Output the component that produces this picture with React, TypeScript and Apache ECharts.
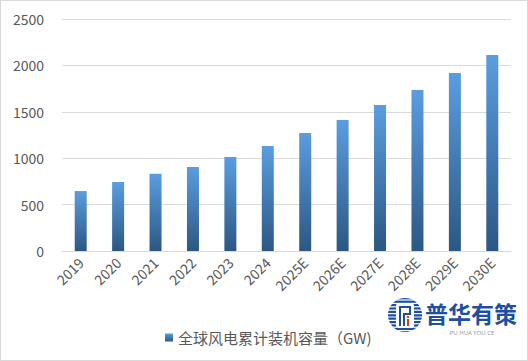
import React, { useEffect, useRef } from "react";
import * as echarts from "echarts";

const categories = ["2019", "2020", "2021", "2022", "2023", "2024", "2025E", "2026E", "2027E", "2028E", "2029E", "2030E"];
const capacity = [646, 743, 833, 905, 1013, 1131, 1272, 1412, 1573, 1735, 1918, 2112];
const seriesName = "全球风电累计装机容量（GW)";

function logoGraphics() {
  const cx = 404;
  const cy = 314;
  const r = 17;
  const els: any[] = [];
  els.push({ type: "circle", shape: { cx, cy, r }, style: { fill: "#1f4f9f" } });
  for (let y = cy - r + 2; y < cy + r; y += 3.4) {
    const dy = y - cy;
    const half = Math.sqrt(Math.max(0, r * r - dy * dy));
    els.push({ type: "line", shape: { x1: cx - half - 1, y1: y, x2: cx + half + 1, y2: y }, style: { stroke: "#ffffff", lineWidth: 1.2 } });
  }
  els.push({ type: "rect", shape: { x: cx - 9, y: cy - 12, width: 18, height: 25, r: 3 }, style: { fill: "#ffffff" } });
  els.push({
    type: "polyline",
    shape: { points: [[cx - 5, cy + 11], [cx - 5, cy - 8], [cx + 5, cy - 8], [cx + 5, cy - 1], [cx - 1, cy - 1], [cx - 1, cy + 11]] },
    style: { stroke: "#1f4f9f", lineWidth: 2, fill: "none" },
  });
  els.push({ type: "rect", shape: { x: cx + 2, y: cy + 4, width: 2, height: 7 }, style: { fill: "#d9342b" } });
  els.push({ type: "circle", shape: { cx: cx + 3, cy: cy + 2, r: 1.2 }, style: { fill: "#d9342b" } });
  els.push({
    type: "text",
    x: 424,
    y: 312,
    style: { text: "普华有策", fill: "#1f4f9f", font: "bold 23px 'Noto Sans CJK SC'", textVerticalAlign: "middle" },
  });
  els.push({
    type: "text",
    x: 471,
    y: 332,
    style: { text: "PU HUA YOU CE", fill: "#9a9a9a", font: "6px 'Noto Sans'", textAlign: "center", textVerticalAlign: "middle" },
  });
  return els;
}

export default function App() {
  const ref = useRef<HTMLDivElement>(null);
  useEffect(() => {
    if (!ref.current) return;
    const chart = echarts.init(ref.current, null, { renderer: "svg" });
    const font = "'Noto Sans CJK SC', 'Noto Sans', sans-serif";
    chart.setOption({
      animation: false,
      backgroundColor: "#ffffff",
      textStyle: { fontFamily: font },
      grid: { left: 61, right: 16, top: 18, bottom: 109, containLabel: false },
      legend: {
        left: 159,
        top: 324,
        itemWidth: 8,
        itemHeight: 8,
        icon: "rect",
        textStyle: { fontSize: 15, color: "#595959", fontFamily: font },
        data: [seriesName],
      },
      xAxis: {
        type: "category",
        data: categories,
        axisLine: { show: true, lineStyle: { color: "#d9d9d9" } },
        axisTick: { show: false },
        axisLabel: { rotate: 45, fontSize: 14, color: "#595959", margin: 9, interval: 0 },
      },
      yAxis: {
        type: "value",
        min: 0,
        max: 2500,
        interval: 500,
        axisLine: { show: false },
        axisTick: { show: false },
        splitLine: { lineStyle: { color: "#d9d9d9" } },
        axisLabel: { fontSize: 14, color: "#595959", margin: 18, formatter: (v: number) => String(v) },
      },
      series: [
        {
          name: seriesName,
          type: "bar",
          data: capacity,
          barWidth: 12,
          itemStyle: {
            color: new echarts.graphic.LinearGradient(0, 0, 0, 1, [
              { offset: 0, color: "#5b9de0" },
              { offset: 1, color: "#2c5783" },
            ]),
          },
        },
      ],
      graphic: logoGraphics(),
    });
    return () => chart.dispose();
  }, []);
  return (
    <div
      style={{
        position: "fixed",
        left: 0,
        top: 0,
        width: 528,
        height: 361,
        boxSizing: "border-box",
        border: "1px solid #d9d9d9",
        background: "#fff",
      }}
    >
      <div ref={ref} style={{ width: 526, height: 359 }} />
    </div>
  );
}
